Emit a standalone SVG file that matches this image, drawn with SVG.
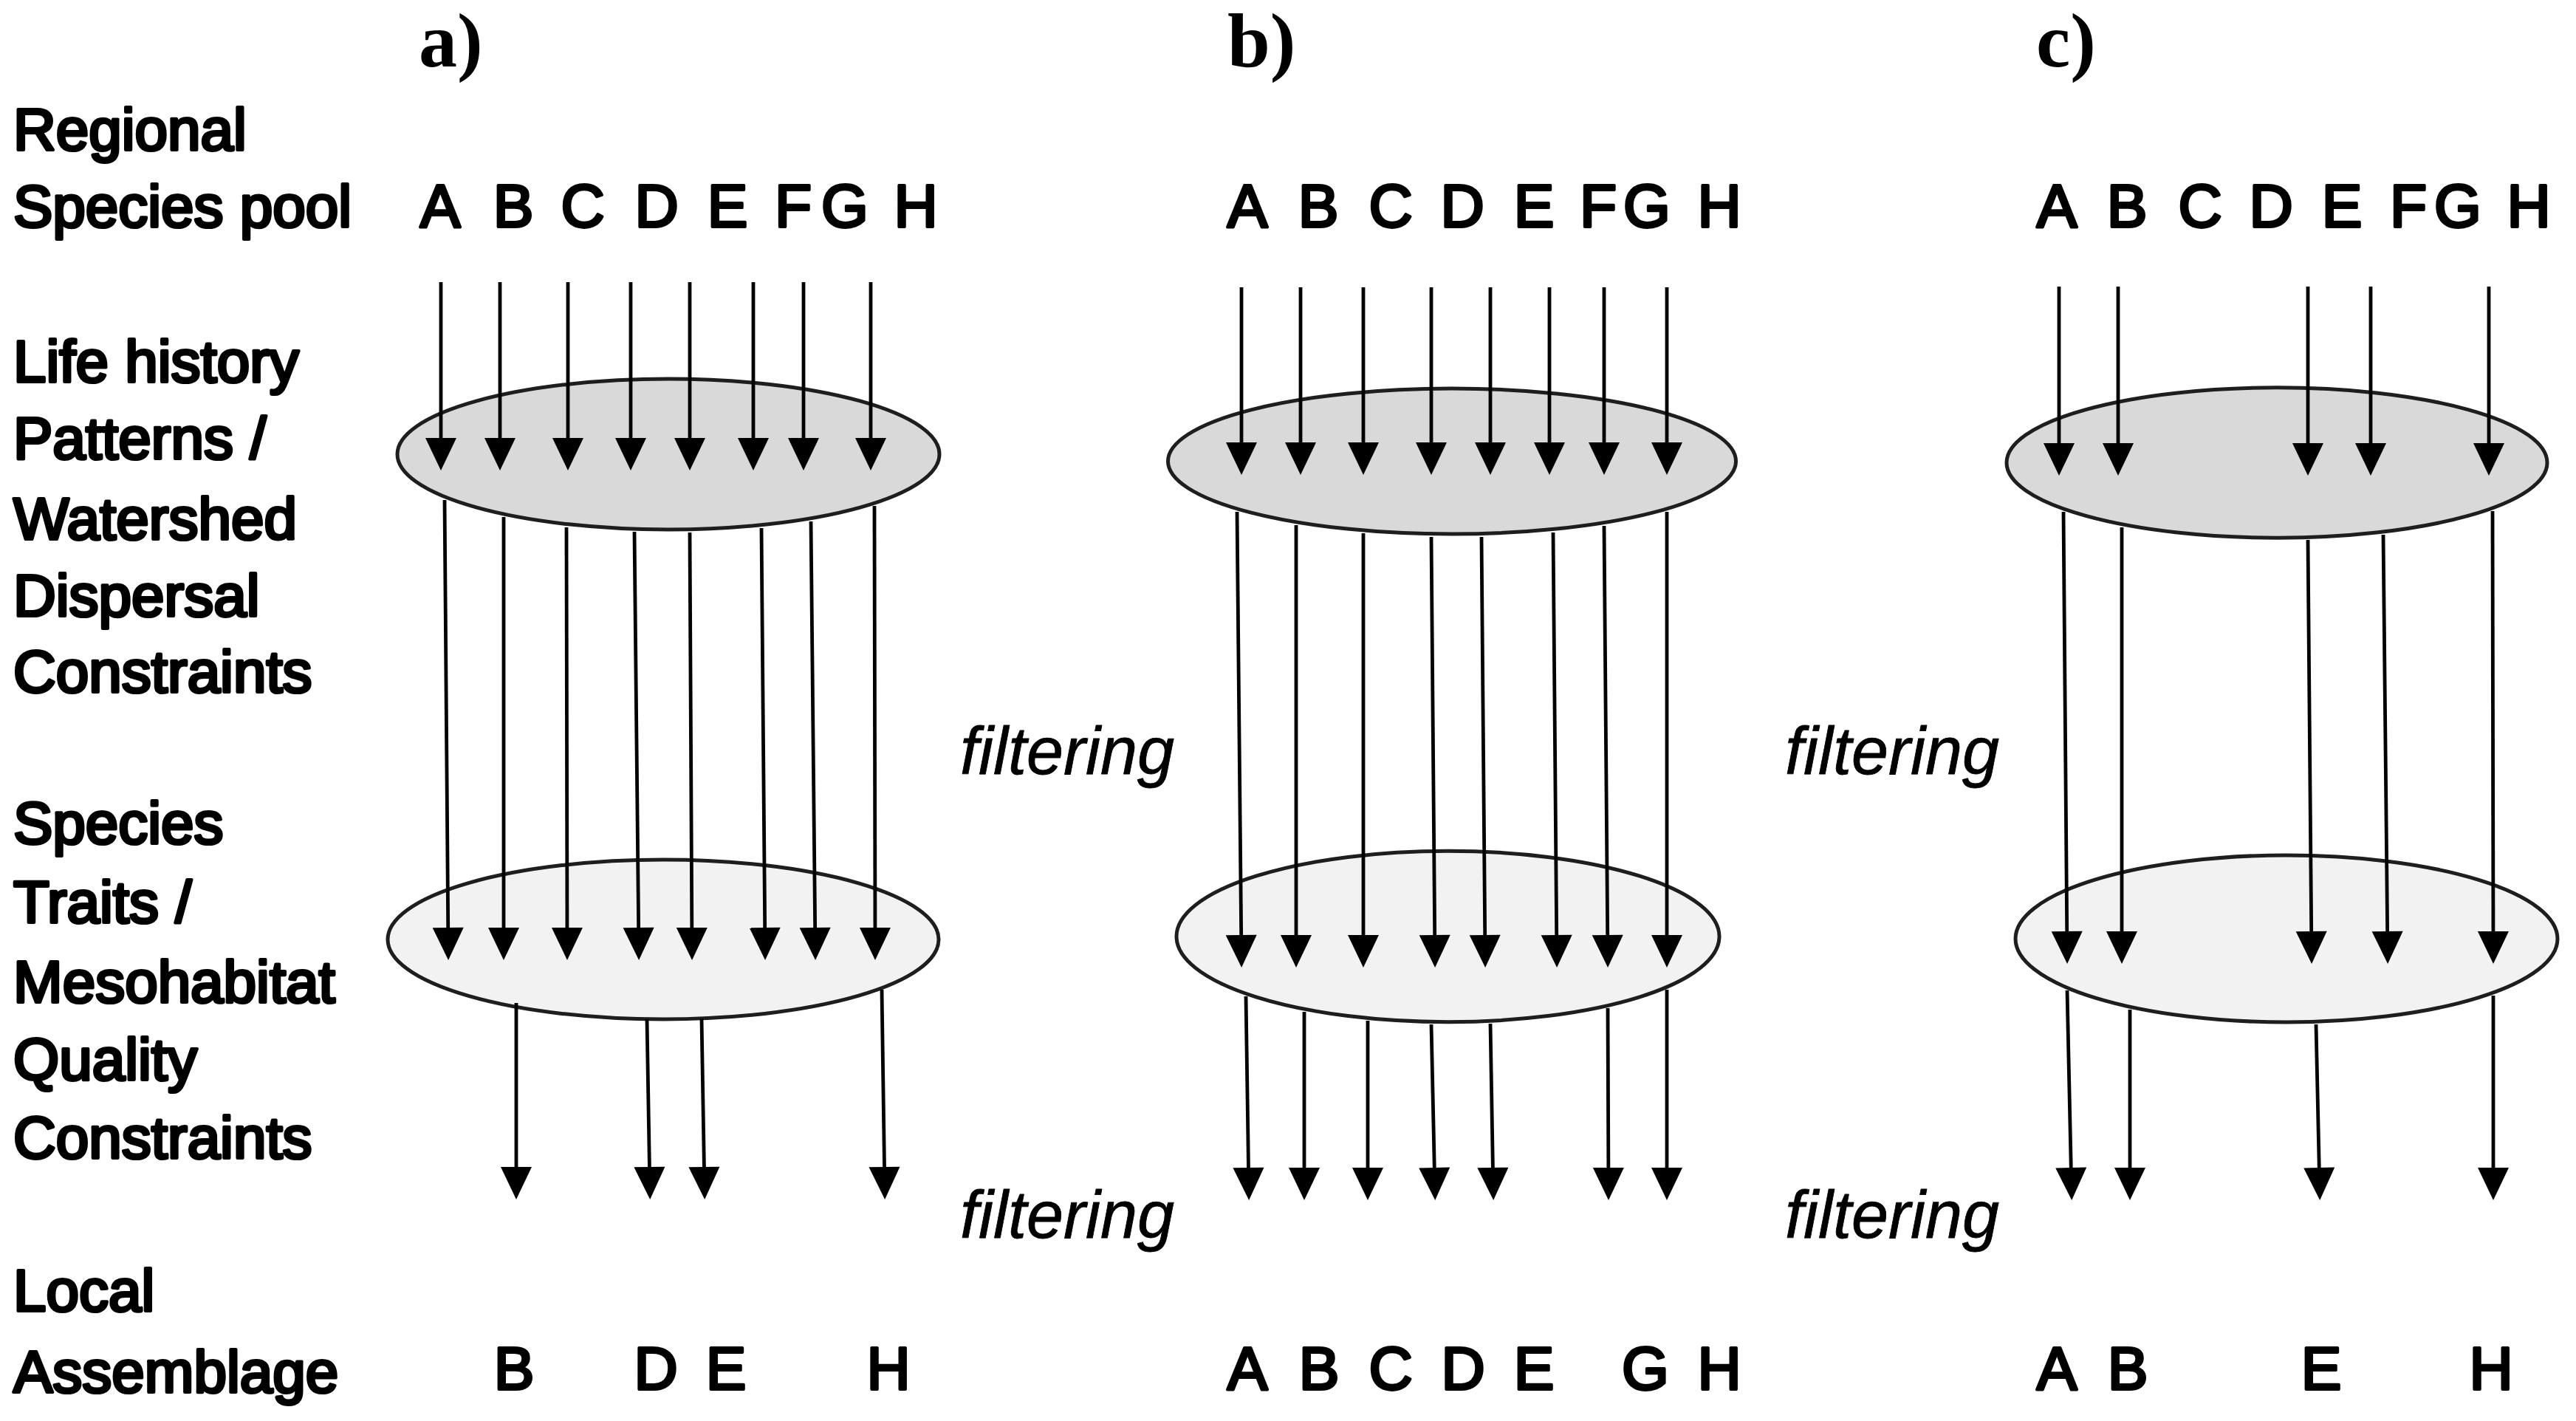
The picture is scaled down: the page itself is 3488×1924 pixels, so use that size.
<svg xmlns="http://www.w3.org/2000/svg" width="3488" height="1924" viewBox="0 0 3488 1924">
<style>
.t{font-family:"Liberation Sans",Arial,sans-serif;fill:#000;stroke:#000;stroke-linejoin:round}
.lbl{font-size:80px;stroke-width:4.2}
.sp{font-size:82px;stroke-width:3.8;text-anchor:middle}
.filt{font-size:90px;font-style:italic;stroke-width:0.8}
.title{font-family:"Liberation Serif","Times New Roman",serif;font-weight:bold;font-size:104px;fill:#000}
.e1{fill:#d9d9d9;stroke:#1e1e1e;stroke-width:5}
.e2{fill:#f2f2f2;stroke:#1e1e1e;stroke-width:5}
#connectors line{stroke:#000;stroke-width:4.8;fill:none;marker-end:url(#ah)}
</style>
<defs>
<marker id="ah" markerUnits="userSpaceOnUse" markerWidth="44" markerHeight="42" refX="34" refY="21" orient="auto" overflow="visible">
<path d="M0,0 L44,21 L0,42 z" fill="#000"/>
</marker>
</defs>
<rect width="3488" height="1924" fill="#fff"/>

<g id="titles">
<text class="title" x="567" y="90">a)</text>
<text class="title" x="1662" y="90">b)</text>
<text class="title" x="2757" y="90">c)</text>
</g>

<g id="row-labels">
<text class="t lbl" x="18" y="203">Regional</text>
<text class="t lbl" x="18" y="307">Species pool</text>
<text class="t lbl" x="18" y="517">Life history</text>
<text class="t lbl" x="18" y="621">Patterns /</text>
<text class="t lbl" x="18" y="730">Watershed</text>
<text class="t lbl" x="18" y="834">Dispersal</text>
<text class="t lbl" x="18" y="937">Constraints</text>
<text class="t lbl" x="18" y="1142">Species</text>
<text class="t lbl" x="18" y="1249">Traits /</text>
<text class="t lbl" x="18" y="1357">Mesohabitat</text>
<text class="t lbl" x="18" y="1462">Quality</text>
<text class="t lbl" x="18" y="1568">Constraints</text>
<text class="t lbl" x="18" y="1775">Local</text>
<text class="t lbl" x="18" y="1885">Assemblage</text>
</g>

<g id="filtering-labels">
<text class="t filt" x="1300" y="1048">filtering</text>
<text class="t filt" x="1300" y="1676">filtering</text>
<text class="t filt" x="2417" y="1048">filtering</text>
<text class="t filt" x="2417" y="1676">filtering</text>
</g>

<g id="a-pool">
<text class="t sp" x="596" y="307">A</text><text class="t sp" x="695" y="307">B</text><text class="t sp" x="789" y="307">C</text><text class="t sp" x="889" y="307">D</text><text class="t sp" x="985" y="307">E</text><text class="t sp" x="1074" y="307">F</text><text class="t sp" x="1144" y="307">G</text><text class="t sp" x="1240" y="307">H</text>
</g>
<g id="b-pool">
<text class="t sp" x="1689" y="307">A</text><text class="t sp" x="1785" y="307">B</text><text class="t sp" x="1883" y="307">C</text><text class="t sp" x="1980" y="307">D</text><text class="t sp" x="2077" y="307">E</text><text class="t sp" x="2164" y="307">F</text><text class="t sp" x="2230" y="307">G</text><text class="t sp" x="2328" y="307">H</text>
</g>
<g id="c-pool">
<text class="t sp" x="2785" y="307">A</text><text class="t sp" x="2880" y="307">B</text><text class="t sp" x="2979" y="307">C</text><text class="t sp" x="3075" y="307">D</text><text class="t sp" x="3171" y="307">E</text><text class="t sp" x="3261" y="307">F</text><text class="t sp" x="3328" y="307">G</text><text class="t sp" x="3424" y="307">H</text>
</g>

<g id="a-dispersal"><ellipse class="e1" cx="905" cy="615" rx="367" ry="102"/></g>
<g id="b-dispersal"><ellipse class="e1" cx="1966" cy="624.5" rx="384.5" ry="98.5"/></g>
<g id="c-dispersal"><ellipse class="e1" cx="3083" cy="626.5" rx="366" ry="101.7"/></g>
<g id="a-traits"><ellipse class="e2" cx="898" cy="1272" rx="373" ry="108"/></g>
<g id="b-traits"><ellipse class="e2" cx="1960.5" cy="1268" rx="367.5" ry="115.7"/></g>
<g id="c-traits"><ellipse class="e2" cx="3096" cy="1271" rx="367" ry="113"/></g>

<g id="a-local">
<text class="t sp" x="696" y="1881">B</text><text class="t sp" x="888" y="1881">D</text><text class="t sp" x="983" y="1881">E</text><text class="t sp" x="1203" y="1881">H</text>
</g>
<g id="b-local">
<text class="t sp" x="1689" y="1881">A</text><text class="t sp" x="1786" y="1881">B</text><text class="t sp" x="1883" y="1881">C</text><text class="t sp" x="1981" y="1881">D</text><text class="t sp" x="2077" y="1881">E</text><text class="t sp" x="2228" y="1881">G</text><text class="t sp" x="2328" y="1881">H</text>
</g>
<g id="c-local">
<text class="t sp" x="2785" y="1881">A</text><text class="t sp" x="2881" y="1881">B</text><text class="t sp" x="3143" y="1881">E</text><text class="t sp" x="3373" y="1881">H</text>
</g>

<g id="connectors">
<line x1="597" y1="382" x2="597" y2="627"/>
<line x1="677" y1="382" x2="677" y2="627"/>
<line x1="769" y1="382" x2="769" y2="627"/>
<line x1="854" y1="382" x2="854" y2="627"/>
<line x1="934" y1="382" x2="934" y2="627"/>
<line x1="1020" y1="382" x2="1020" y2="627"/>
<line x1="1088" y1="382" x2="1088" y2="627"/>
<line x1="1179" y1="382" x2="1179" y2="627"/>
<line x1="602" y1="677" x2="607" y2="1290"/>
<line x1="682" y1="700" x2="682" y2="1290"/>
<line x1="767" y1="714" x2="768" y2="1290"/>
<line x1="859" y1="720" x2="865" y2="1290"/>
<line x1="934" y1="721" x2="937" y2="1290"/>
<line x1="1031" y1="715" x2="1036" y2="1290"/>
<line x1="1098" y1="706" x2="1104" y2="1290"/>
<line x1="1184" y1="685" x2="1185" y2="1290"/>
<line x1="699" y1="1358" x2="699" y2="1614"/>
<line x1="876" y1="1380" x2="880" y2="1614"/>
<line x1="950" y1="1379" x2="954" y2="1614"/>
<line x1="1194" y1="1340" x2="1198" y2="1614"/>
<line x1="1681" y1="389" x2="1681" y2="633"/>
<line x1="1761" y1="389" x2="1761" y2="633"/>
<line x1="1846" y1="389" x2="1846" y2="633"/>
<line x1="1938" y1="389" x2="1938" y2="633"/>
<line x1="2018" y1="389" x2="2018" y2="633"/>
<line x1="2098" y1="389" x2="2098" y2="633"/>
<line x1="2172" y1="389" x2="2172" y2="633"/>
<line x1="2257" y1="389" x2="2257" y2="633"/>
<line x1="1675" y1="693" x2="1681" y2="1300"/>
<line x1="1755" y1="711" x2="1755" y2="1300"/>
<line x1="1846" y1="722" x2="1846" y2="1300"/>
<line x1="1938" y1="727" x2="1943" y2="1300"/>
<line x1="2006" y1="727" x2="2011" y2="1300"/>
<line x1="2103" y1="721" x2="2108" y2="1300"/>
<line x1="2172" y1="712" x2="2177" y2="1300"/>
<line x1="2257" y1="693" x2="2257" y2="1300"/>
<line x1="1687" y1="1349" x2="1691" y2="1615"/>
<line x1="1766" y1="1370" x2="1766" y2="1615"/>
<line x1="1852" y1="1382" x2="1852" y2="1615"/>
<line x1="1938" y1="1387" x2="1943" y2="1615"/>
<line x1="2018" y1="1386" x2="2022" y2="1615"/>
<line x1="2177" y1="1365" x2="2178" y2="1615"/>
<line x1="2257" y1="1340" x2="2257" y2="1615"/>
<line x1="2788" y1="388" x2="2788" y2="634"/>
<line x1="2868" y1="388" x2="2868" y2="634"/>
<line x1="3125" y1="388" x2="3125" y2="634"/>
<line x1="3210" y1="388" x2="3210" y2="634"/>
<line x1="3370" y1="388" x2="3370" y2="634"/>
<line x1="2794" y1="693" x2="2799" y2="1295"/>
<line x1="2873" y1="714" x2="2873" y2="1295"/>
<line x1="3125" y1="731" x2="3130" y2="1295"/>
<line x1="3227" y1="724" x2="3233" y2="1295"/>
<line x1="3375" y1="692" x2="3376" y2="1295"/>
<line x1="2799" y1="1341" x2="2805" y2="1615"/>
<line x1="2884" y1="1367" x2="2884" y2="1615"/>
<line x1="3136" y1="1387" x2="3141" y2="1615"/>
<line x1="3376" y1="1348" x2="3376" y2="1615"/>
</g>
</svg>
